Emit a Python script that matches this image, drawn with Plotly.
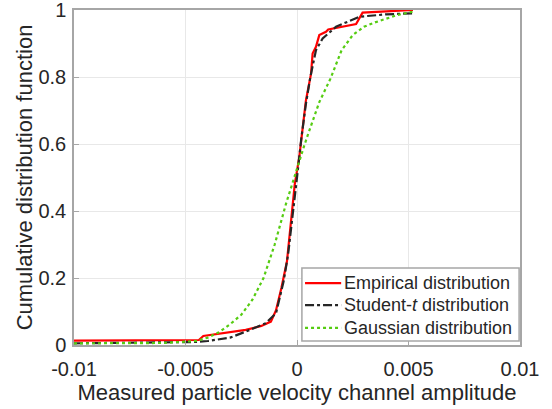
import plotly.graph_objects as go

# Empirical distribution (red)
emp_x = [-0.0100, -0.0044, -0.0042, -0.0032, -0.0023, -0.0016, -0.00117, -0.00094, -0.0007,
         -0.00045, -0.00025, -0.0001, 0.0001, 0.00025, 0.0004, 0.00063, 0.0007, 0.00085,
         0.001, 0.0013, 0.0014, 0.00265, 0.00294, 0.004, 0.0052]
emp_y = [0.013, 0.015, 0.027, 0.037, 0.045, 0.057, 0.07, 0.104, 0.17,
         0.25, 0.37, 0.48, 0.56, 0.65, 0.73, 0.81, 0.87, 0.89,
         0.925, 0.935, 0.942, 0.958, 0.992, 0.996, 1.0]

# Student-t distribution (black dash-dot)
stu_x = [-0.0100, -0.006, -0.0045, -0.004, -0.003, -0.0023, -0.0014, -0.00094, -0.0008,
         -0.0006, -0.0004, -0.0002, 0.0, 0.0002, 0.0004, 0.0006, 0.00085, 0.00115,
         0.00175, 0.0028, 0.004, 0.0052]
stu_y = [0.005, 0.007, 0.009, 0.012, 0.022, 0.04, 0.065, 0.095, 0.134,
         0.19, 0.27, 0.38, 0.50, 0.62, 0.72, 0.80, 0.88, 0.915,
         0.95, 0.98, 0.987, 0.99]

# Gaussian distribution (green dotted)
gau_x = [-0.0100, -0.006, -0.0045, -0.004, -0.0035, -0.003, -0.0025, -0.002, -0.0015,
         -0.001, -0.0005, 0.0, 0.0003, 0.0005, 0.001, 0.0015, 0.002, 0.0025,
         0.003, 0.0035, 0.004, 0.0045, 0.0052]
gau_y = [0.005, 0.006, 0.012, 0.022, 0.038, 0.062, 0.09, 0.135, 0.20,
         0.30, 0.42, 0.53, 0.59, 0.63, 0.725, 0.795, 0.88, 0.925,
         0.95, 0.963, 0.975, 0.985, 0.995]

x_ticks = [-0.01, -0.005, 0, 0.005, 0.01]
x_tick_labels = ["-0.01", "-0.005", "0", "0.005", "0.01"]
y_ticks = [0, 0.2, 0.4, 0.6, 0.8, 1]
y_tick_labels = ["0", "0.2", "0.4", "0.6", "0.8", "1"]

series_names = ["Empirical distribution", "Student-<i>t</i> distribution", "Gaussian distribution"]
series_colors = ["#ff0000", "#262626", "#55cc11"]
series_dashes = ["solid", "dashdot", "dot"]

FONT = "Liberation Sans, Arial, sans-serif"
TXT = "#262626"
BORDER = "#a6a6a6"

fig = go.Figure()
for xs, ys, name, color, dash in zip([emp_x, stu_x, gau_x], [emp_y, stu_y, gau_y],
                                     series_names, series_colors, series_dashes):
    fig.add_trace(go.Scatter(x=xs, y=ys, mode="lines", name=name,
                             line=dict(color=color, width=2.2, dash=dash)))

axis_common = dict(
    showgrid=True, gridcolor="#e8e8e8", gridwidth=1,
    showline=True, linecolor=BORDER, linewidth=1.5, mirror=True,
    ticks="inside", ticklen=5, tickcolor=BORDER,
    zeroline=False, automargin=False, ticklabeloverflow="allow",
    tickfont=dict(family=FONT, size=20, color=TXT),
)

# Legend box drawn in paper coordinates (MATLAB-style legend)
shapes = [dict(type="rect", xref="paper", yref="paper", x0=0.511, x1=0.998, y0=0.012, y1=0.230,
               line=dict(color=BORDER, width=1.5), fillcolor="white", layer="above")]
annotations = []
row_y = [0.185, 0.119, 0.051]
for name, color, dash, ry in zip(series_names, series_colors, series_dashes, row_y):
    shapes.append(dict(type="line", xref="paper", yref="paper", x0=0.518, x1=0.599, y0=ry, y1=ry,
                       line=dict(color=color, width=2.2, dash=dash), layer="above"))
    annotations.append(dict(text=name, xref="paper", yref="paper", x=0.601, y=ry,
                            xanchor="left", yanchor="middle", showarrow=False,
                            font=dict(family=FONT, size=18, color=TXT)))

fig.update_layout(
    width=552, height=409,
    margin=dict(l=74, r=32, t=10, b=64),
    paper_bgcolor="white", plot_bgcolor="white",
    font=dict(family=FONT, color=TXT),
    xaxis=dict(range=[-0.01, 0.01], tickvals=x_ticks, ticktext=x_tick_labels,
               ticklabelstandoff=5,
               title=dict(text="Measured particle velocity channel amplitude",
                          font=dict(family=FONT, size=22, color=TXT), standoff=0),
               **axis_common),
    yaxis=dict(range=[0, 1], tickvals=y_ticks, ticktext=y_tick_labels,
               ticklabelstandoff=2,
               title=dict(text="Cumulative distribution function",
                          font=dict(family=FONT, size=22, color=TXT), standoff=0),
               **axis_common),
    shapes=shapes,
    annotations=annotations,
    showlegend=False,
    hovermode=False,
)

fig.write_html("out.html", config={"displayModeBar": False},
               post_script="document.body.style.margin='0';")
